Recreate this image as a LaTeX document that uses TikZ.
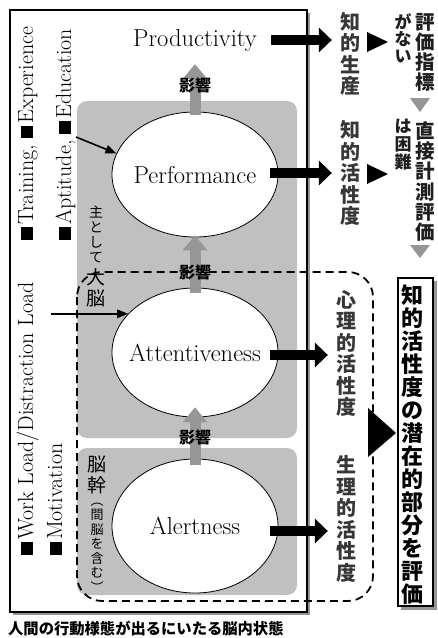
\documentclass[tikz,border=0pt]{standalone}
\usepackage{fontspec}
\newfontfamily\jp{Noto Sans CJK JP}
\usetikzlibrary{shapes.geometric,arrows.meta}
\definecolor{regiongray}{RGB}{192,192,192}
\definecolor{arrowgray}{RGB}{150,150,150}
\definecolor{shadowgray}{RGB}{150,150,150}
\definecolor{labelgray}{RGB}{55,55,55}
\newcommand\sqm{\rule{0.56em}{0.56em}\hspace{0.12em}}
\tikzset{
  region/.style={fill=regiongray, rounded corners=10pt},
  dashline/.style={draw=black, line width=1.8pt, dash pattern=on 8pt off 5pt, rounded corners=25pt},
  stateell/.style={ellipse, draw=black, line width=0.8pt, fill=white, inner sep=0pt, minimum width=166pt},
  statetext/.style={inner sep=0pt, font=\fontsize{24.5}{29}\selectfont},
  infl/.style={draw=arrowgray, line width=11pt, -{Triangle[width=25pt,length=15pt,line width=0pt]}},
  outarrow/.style={draw=black, line width=10pt, -{Triangle[width=25pt,length=13pt,line width=0pt]}},
  inarrow/.style={draw=black, line width=1.6pt, -{Triangle[width=9pt,length=11pt,line width=0pt]}},
  infllabel/.style={font=\jp\bfseries\fontsize{16}{16}\selectfont, inner sep=0pt, text=black},
  vstack/.style={align=center, inner sep=0pt},
  leftlabel/.style={rotate=90, anchor=base west, inner sep=0pt, font=\fontsize{22}{27}\selectfont},
}
\begin{document}
\begin{tikzpicture}[x=1pt,y=-1pt]
\useasboundingbox (0,0) rectangle (438,638);
\fill[white] (0,0) rectangle (438,638);

% main frame with shadow
\fill[shadowgray] (13,13) rectangle (310,615);
\draw[line width=1.6pt, fill=white] (10,10) rectangle (307,612);

% gray brain regions
\fill[region] (77,101) rectangle (297,438);
\fill[region] (77,448) rectangle (297,595);

% dashed outline
\draw[dashline] (77,272) rectangle (373,601);

% states
\node[statetext] (prod) at (195,40) {Productivity};
\node[stateell, minimum height=125pt] (perf) at (195,174.5) {};
\node[statetext] (perfT) at (perf.center) {Performance};
\node[stateell, minimum height=129pt] (att) at (195,352.5) {};
\node[statetext] (attT) at (att.center) {Attentiveness};
\node[stateell, minimum height=134pt] (alert) at (195,526) {};
\node[statetext] (alertT) at (alert.center) {Alertness};

% influence arrows
\draw[infl] ([yshift=-3pt]perf.north) -- ([yshift=-13pt]prod.south);
\draw[infl] ([yshift=-5pt]att.north) -- ([yshift=2pt]perf.south);
\draw[infl] ([yshift=-6pt]alert.north) -- ([yshift=10pt]att.south);
\node[infllabel] (e1) at (195,85.5) {影響};
\node[infllabel] (e2) at (195,272) {影響};
\node[infllabel] (e3) at (195,437) {影響};

% right labels
\node[vstack, text=labelgray, font=\jp\bfseries\fontsize{20}{21.5}\selectfont] (k1) at (350,54) {知\\的\\生\\産};
\node[vstack, text=labelgray, font=\jp\bfseries\fontsize{20}{21.5}\selectfont] (k2) at (350,173) {知\\的\\活\\性\\度};
\node[vstack, text=labelgray, font=\jp\bfseries\fontsize{20}{21.5}\selectfont] (k3) at (346,353.5) {心\\理\\的\\活\\性\\度};
\node[vstack, text=labelgray, font=\jp\bfseries\fontsize{20}{21.5}\selectfont] (k4) at (346,519) {生\\理\\的\\活\\性\\度};

% output arrows
\draw[outarrow, shorten >=8pt] ([xshift=14pt]prod.east) -- (prod.east -| k1.west);
\coordinate (o2) at ([xshift=-8pt,yshift=1.5pt]perf.east);
\draw[outarrow, shorten >=8pt] (o2) -- (o2 -| k2.west);
\coordinate (o3) at ([xshift=-8pt,yshift=-2.5pt]att.east);
\draw[outarrow, shorten >=8pt] (o3) -- (o3 -| k3.west);
\coordinate (o4) at ([xshift=-8pt,yshift=-5pt]alert.east);
\draw[outarrow, shorten >=8pt] (o4) -- (o4 -| k4.west);

% far right notes
\node[vstack, text=black!88, font=\jp\bfseries\fontsize{17}{17}\selectfont] (n1) at (403,38) {が\\な\\い};
\node[vstack, text=black!88, font=\jp\bfseries\fontsize{19.5}{20}\selectfont] (n2) at (425,52) {評\\価\\指\\標};
\node[vstack, text=black!88, font=\jp\bfseries\fontsize{17}{18}\selectfont] (n3) at (403,145) {は\\困\\難};
\node[vstack, text=black!88, font=\jp\bfseries\fontsize{19.5}{20.2}\selectfont] (n4) at (425,181.5) {直\\接\\計\\測\\評\\価};

% triangles
\fill (367,32) -- (367,52) -- (388,42) -- cycle;
\fill (367,164) -- (367,184) -- (388,174) -- cycle;
\fill[arrowgray] (410,98) -- (430,98) -- (420,112) -- cycle;
\fill[arrowgray] (410,245) -- (430,245) -- (420,258) -- cycle;
\fill (368,408) -- (368,457) -- (396,433) -- cycle;

% result box
\fill[shadowgray] (401,281) rectangle (436.5,609.5);
\node[draw, line width=1.3pt, fill=white, inner sep=0pt, minimum width=35pt, minimum height=328pt] (bx) at (415.5,442) {};
\node[vstack, font=\jp\bfseries\fontsize{22}{23}\selectfont] (bt) at (412,444.5) {知\\的\\活\\性\\度\\の\\潜\\在\\的\\部\\分\\を\\評\\価};

% left factor labels
\node[leftlabel] (tr) at (33,240) {\sqm Training, \sqm Experience};
\node[leftlabel] (ap) at (71,240) {\sqm Aptitude, \sqm Education};
\node[leftlabel] (wl) at (33,555) {\sqm Work Load/Distraction Load};
\node[leftlabel] (mo) at (62,555) {\sqm Motivation};

% input arrows
\coordinate (apin) at (76,137);
\draw[inarrow] (apin) -- (perf.165);
\coordinate (wlin) at ([xshift=-77pt]att.150);
\draw[inarrow] (wlin) -- (att.150);

% brain region labels
\node[vstack, font=\jp\fontsize{14}{15}\selectfont] (mt1) at (96,234.5) {主\\と\\し\\て};
\node[vstack, font=\jp\fontsize{19}{21}\selectfont] (mt2) at (96,287.5) {大\\脳};
\node[vstack, font=\jp\fontsize{19}{21}\selectfont] (bs1) at (97,474.5) {脳\\幹};
\node[vstack, font=\jp\fontsize{13}{14.5}\selectfont] (bs2) at (97,547.5) {︵\\間\\脳\\を\\含\\む\\︶};

% caption
\node[anchor=west, inner sep=0pt, font=\jp\bfseries\fontsize{15.3}{16}\selectfont] (cap) at (8,628.5) {人間の行動様態が出るにいたる脳内状態};
\end{tikzpicture}
\end{document}
